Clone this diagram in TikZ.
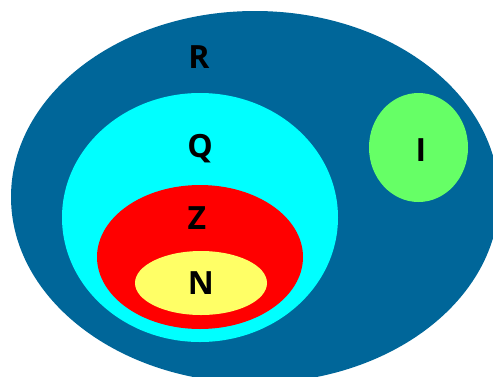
\documentclass[tikz,border=0pt]{standalone}
\usepackage{fontspec}
\setmainfont{Open Sans}
\usepackage{tikz}
\definecolor{setR}{RGB}{0,102,153}
\definecolor{setQ}{RGB}{0,255,255}
\definecolor{setZ}{RGB}{255,0,0}
\definecolor{setN}{RGB}{255,255,102}
\definecolor{setI}{RGB}{102,255,102}
\begin{document}
\begin{tikzpicture}[x=1pt, y=-1pt, setlabel/.style={font=\fontsize{32}{32}\selectfont\bfseries, text=black, inner sep=0pt}]
    \useasboundingbox (0,0) rectangle (493,376);
    \clip (0,0) rectangle (493,376);
    % sets
    \fill[setR] (255,197) ellipse [x radius=244, y radius=186];
    \fill[setQ] (200,217.5) ellipse [x radius=138, y radius=124.5];
    \fill[setZ] (200,257) ellipse [x radius=103, y radius=72];
    \fill[setN] (201,283) ellipse [x radius=66, y radius=32];
    \fill[setI] (418.5,147.5) ellipse [x radius=49.5, y radius=54.5];
    % labels
    \node[setlabel] (lblR) at (199,57) {R};
    \node[setlabel] (lblQ) at (200,149) {Q};
    \node[setlabel] (lblZ) at (197,218) {Z};
    \node[setlabel] (lblN) at (201,283) {N};
    \node[setlabel] (lblI) at (421,150) {I};
\end{tikzpicture}
\end{document}
